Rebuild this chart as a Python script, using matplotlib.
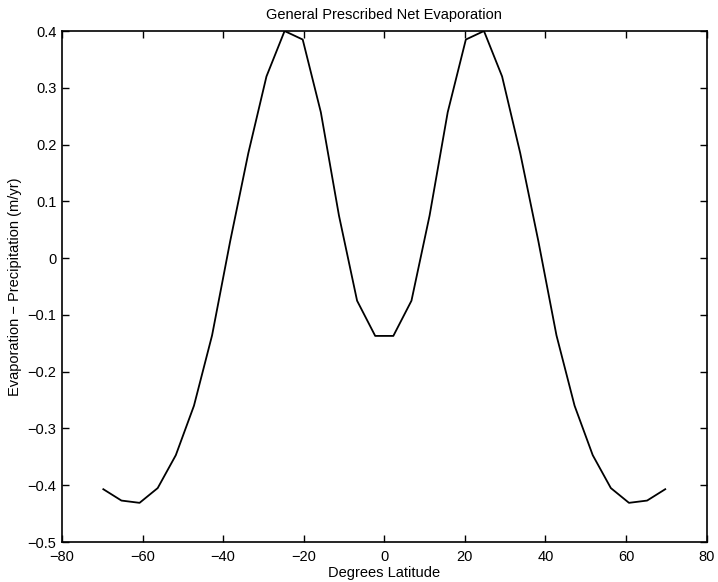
import matplotlib
matplotlib.use('Agg')
import matplotlib.pyplot as plt

# latitude grid (deg) and prescribed E-P (m/yr)
latitude = [-69.75, -65.25, -60.75, -56.25, -51.75, -47.25, -42.75, -38.25,
            -33.75, -29.25, -24.75, -20.25, -15.75, -11.25, -6.75, -2.25,
            2.25, 6.75, 11.25, 15.75, 20.25, 24.75, 29.25, 33.75,
            38.25, 42.75, 47.25, 51.75, 56.25, 60.75, 65.25, 69.75]
evap_minus_precip = [-0.407, -0.427, -0.431, -0.405, -0.347, -0.260, -0.136, 0.030,
                     0.185, 0.320, 0.400, 0.385, 0.257, 0.075, -0.075, -0.137,
                     -0.137, -0.075, 0.075, 0.257, 0.385, 0.400, 0.320, 0.185,
                     0.030, -0.136, -0.260, -0.347, -0.405, -0.431, -0.427, -0.407]

xticks = [-80, -60, -40, -20, 0, 20, 40, 60, 80]
yticks = [-0.5, -0.4, -0.3, -0.2, -0.1, 0, 0.1, 0.2, 0.3, 0.4]
ytick_labels = ['-0.5', '-0.4', '-0.3', '-0.2', '-0.1', '0', '0.1', '0.2', '0.3', '0.4']

plt.rcParams['font.family'] = ['Liberation Sans', 'DejaVu Sans']

fig = plt.figure(figsize=(7.18, 5.82), dpi=100)
ax = fig.add_axes([0.0864, 0.0687, 0.8976, 0.878])

ax.plot(latitude, evap_minus_precip, color='black', linewidth=1.3)

ax.set_xlim(-80, 80)
ax.set_ylim(-0.5, 0.4)
ax.set_xticks(xticks)
ax.set_xticklabels([str(t).replace('-', '\u2212') for t in xticks])
ax.set_yticks(yticks)
ax.set_yticklabels([t.replace('-', '\u2212') for t in ytick_labels])
ax.tick_params(direction='in', top=True, right=True, length=5, width=1.0,
               labelsize=10.5)
ax.tick_params(axis='x', pad=6)
ax.tick_params(axis='y', pad=4)
for s in ax.spines.values():
    s.set_linewidth(1.2)

ax.set_title('General Prescribed Net Evaporation', fontsize=10.5, pad=9)
ax.set_xlabel('Degrees Latitude', fontsize=10.5, labelpad=1)
ax.set_ylabel('Evaporation \u2212 Precipitation (m/yr)', fontsize=10.5, labelpad=4)

fig.savefig('out.png', dpi=100)
